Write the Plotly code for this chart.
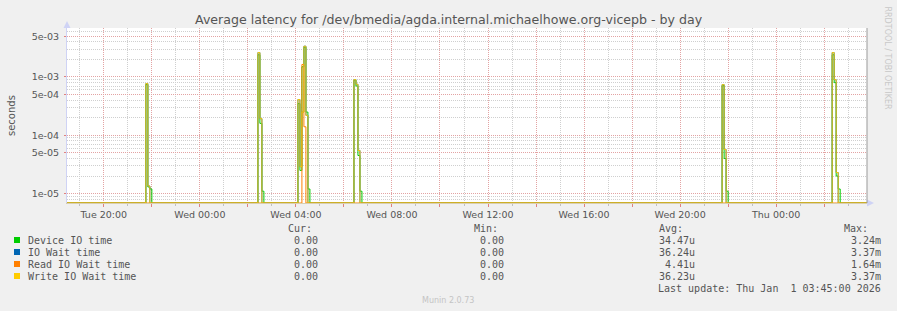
import plotly.graph_objects as go
from datetime import datetime, timedelta

# ---------------- data ----------------
TITLE = "Average latency for /dev/bmedia/agda.internal.michaelhowe.org-vicepb - by day"
Y_TITLE = "seconds"
X_START = "2025-12-30 18:28"
X_END = "2026-01-01 03:47"
STEP_MIN = 5

SERIES = ["Device IO time", "IO Wait time", "Read IO Wait time", "Write IO Wait time"]
COLORS = ["#00CC00", "#0066B3", "#FF8000", "#FFCC00"]

# start time of each burst of non-zero 5-minute samples
SPIKE_STARTS = ["2025-12-30 21:45", "2025-12-31 02:25", "2025-12-31 04:05",
                "2025-12-31 06:25", "2025-12-31 21:45", "2026-01-01 02:20"]

DEVICE = [[7.4e-4, 1.3e-5, 1.2e-5],
          [2.4e-3, 1.6e-4, 1.1e-5],
          [3.5e-4, 2.5e-5, 1.5e-3, 3.24e-3, 2.5e-4, 1.2e-5],
          [8.8e-4, 7.0e-4, 4.5e-5, 1.1e-5],
          [7.1e-4, 4.0e-5, 1.1e-5],
          [2.4e-3, 8.0e-4, 2.0e-5, 1.2e-5]]
IOWAIT = [[7.7e-4, 1.35e-5],
          [2.62e-3, 1.93e-4],
          [4.1e-4, 2.9e-5, 2.5e-4, 3.37e-3, 2.2e-4],
          [9.0e-4, 7.5e-4, 5.5e-5],
          [7.4e-4, 5.7e-5],
          [2.62e-3, 9.0e-4, 2.3e-5]]
READ = [[0.0], [0.0], [0.0, 0.0, 1.64e-3, 1.4e-4], [0.0], [0.0], [0.0]]
WRITE = [[7.7e-4, 1.35e-5],
         [2.62e-3, 1.93e-4],
         [4.1e-4, 2.9e-5, 2.5e-4, 3.37e-3, 2.2e-4],
         [9.0e-4, 7.5e-4, 5.5e-5],
         [7.4e-4, 5.7e-5],
         [2.62e-3, 9.0e-4, 2.3e-5]]

CUR = ["0.00", "0.00", "0.00", "0.00"]
MIN = ["0.00", "0.00", "0.00", "0.00"]
AVG = ["34.47u", "36.24u", "4.41u", "36.23u"]
MAX = ["3.24m", "3.37m", "1.64m", "3.37m"]
LAST_UPDATE = "Last update: Thu Jan\u00a0\u00a01 03:45:00 2026"
VERSION = "Munin 2.0.73"
WATERMARK = "RRDTOOL / TOBI OETIKER"

Y_RANGE_LOG = [-5.161, -2.160]
Y_TICKS = [5e-3, 1e-3, 5e-4, 1e-4, 5e-5, 1e-5]
Y_TICK_LABELS = ["5e-03", "1e-03", "5e-04", "1e-04", "5e-05", "1e-05"]
Y_MINOR_MULT = [2, 3, 4, 6, 7, 8, 9]
Y_MINOR_DECADES = [1e-6, 1e-5, 1e-4, 1e-3]

X_TICKS = ["2025-12-30 20:00", "2025-12-30 22:00", "2025-12-31 00:00", "2025-12-31 02:00",
           "2025-12-31 04:00", "2025-12-31 06:00", "2025-12-31 08:00", "2025-12-31 10:00",
           "2025-12-31 12:00", "2025-12-31 14:00", "2025-12-31 16:00", "2025-12-31 18:00",
           "2025-12-31 20:00", "2025-12-31 22:00", "2026-01-01 00:00", "2026-01-01 02:00"]
X_TICK_LABELS = ["Tue 20:00", "", "Wed 00:00", "", "Wed 04:00", "", "Wed 08:00", "",
                 "Wed 12:00", "", "Wed 16:00", "", "Wed 20:00", "", "Thu 00:00", ""]
X_MINOR = ["2025-12-30 19:00", "2025-12-30 21:00", "2025-12-30 23:00", "2025-12-31 01:00",
           "2025-12-31 03:00", "2025-12-31 05:00", "2025-12-31 07:00", "2025-12-31 09:00",
           "2025-12-31 11:00", "2025-12-31 13:00", "2025-12-31 15:00", "2025-12-31 17:00",
           "2025-12-31 19:00", "2025-12-31 21:00", "2025-12-31 23:00", "2026-01-01 01:00",
           "2026-01-01 03:00"]

# ---------------- build series ----------------
FMT = "%Y-%m-%d %H:%M"
t0 = datetime.strptime(X_START, FMT)
t1 = datetime.strptime(X_END, FMT)
first = t0.replace(minute=(t0.minute // STEP_MIN) * STEP_MIN)
times = []
t = first
while t <= t1 + timedelta(minutes=STEP_MIN):
    times.append(t)
    t += timedelta(minutes=STEP_MIN)
index = {tt: i for i, tt in enumerate(times)}

floor = 10 ** Y_RANGE_LOG[0]


def build(bursts):
    vals = [0.0] * len(times)
    for start, seq in zip(SPIKE_STARTS, bursts):
        s = datetime.strptime(start, FMT)
        for k, v in enumerate(seq):
            i = index.get(s + timedelta(minutes=STEP_MIN * k))
            if i is not None:
                vals[i] = v
    # zero is drawn at the bottom of the log axis, as rrdtool does
    return [v if v > 0 else floor for v in vals]


series_vals = [build(DEVICE), build(IOWAIT), build(READ), build(WRITE)]

fig = go.Figure()
for name, col, vals in zip(SERIES, COLORS, series_vals):
    fig.add_trace(go.Scatter(x=times, y=vals, mode="lines", name=name,
                             line=dict(color=col, width=1, shape="hv"),
                             showlegend=False, hoverinfo="skip"))

# ---------------- layout ----------------
W, H = 897, 311
L, R, T, B = 67, 30, 28, 108
PW, PH = W - L - R, H - T - B


def px(xp):
    return (xp - L) / PW


def py(yp):
    return (T + PH - yp) / PH


TXT = "#555555"
PINK = "#e3a3a3"
GREY = "#cfcfcf"

y_minor = [m * d for d in Y_MINOR_DECADES for m in Y_MINOR_MULT]

fig.update_layout(
    width=W, height=H,
    margin=dict(l=L, r=R, t=T, b=B, pad=0),
    paper_bgcolor="#F0F0F0", plot_bgcolor="#FFFFFF",
    font=dict(family="DejaVu Sans", color=TXT, size=10),
    showlegend=False,
    xaxis=dict(
        type="date", range=[X_START, X_END],
        tickmode="array", tickvals=X_TICKS, ticktext=X_TICK_LABELS,
        ticks="outside", ticklen=3, tickcolor="#e08080", tickwidth=1,
        tickfont=dict(size=9.5, color=TXT, family="DejaVu Sans"),
        showgrid=True, gridcolor=PINK, griddash="1px,1px", gridwidth=1,
        minor=dict(tickvals=X_MINOR, showgrid=True, gridcolor=GREY, griddash="1px,1px",
                   ticks="outside", ticklen=2, tickcolor="#c0c0c0"),
        showline=True, linecolor="#d9cfb0", linewidth=1,
        zeroline=False, fixedrange=True,
    ),
    yaxis=dict(
        type="log", range=Y_RANGE_LOG,
        tickmode="array", tickvals=Y_TICKS, ticktext=Y_TICK_LABELS,
        ticks="outside", ticklen=2, tickcolor="#e08080", ticklabelstandoff=3,
        tickfont=dict(size=9.5, color=TXT, family="DejaVu Sans"),
        showgrid=True, gridcolor=PINK, griddash="1px,1px", gridwidth=1,
        minor=dict(tickvals=y_minor, showgrid=True, gridcolor=GREY, griddash="1px,1px"),
        showline=True, linecolor="#cfd3f5", linewidth=1,
        zeroline=False, fixedrange=True,
        title=None,
    ),
)

ann = []
ann.append(dict(text=TITLE, x=px(449), y=py(19.5), xref="paper", yref="paper",
                xanchor="center", yanchor="middle", showarrow=False,
                font=dict(size=12.6, color=TXT, family="DejaVu Sans")))
ann.append(dict(text=Y_TITLE, x=px(11), y=py(115), xref="paper", yref="paper",
                xanchor="center", yanchor="middle", showarrow=False, textangle=-90,
                font=dict(size=10, color=TXT, family="DejaVu Sans")))
ann.append(dict(text=WATERMARK, x=px(887), y=py(5), xref="paper", yref="paper",
                xanchor="center", yanchor="top", showarrow=False, textangle=90,
                font=dict(size=8, color="#c8c8c8", family="DejaVu Sans")))

MONO = "DejaVu Sans Mono"
for hdr, xr in zip(["Cur:", "Min:", "Avg:", "Max:"], [314, 500, 685, 870]):
    ann.append(dict(text=hdr, x=px(xr), y=py(228), xref="paper", yref="paper",
                    xanchor="right", yanchor="middle", showarrow=False,
                    font=dict(size=10, color=TXT, family=MONO)))
row_y = [240, 252, 264, 276]
shapes = []
for i, name in enumerate(SERIES):
    yy = row_y[i]
    shapes.append(dict(type="rect", xref="paper", yref="paper",
                       x0=px(14), x1=px(20), y0=py(yy + 3), y1=py(yy - 3),
                       fillcolor=COLORS[i], line=dict(width=0)))
    ann.append(dict(text=name, x=px(26), y=py(yy), xref="paper", yref="paper",
                    xanchor="left", yanchor="middle", showarrow=False,
                    font=dict(size=10, color=TXT, family=MONO)))
    for val, xr in zip([CUR[i], MIN[i], AVG[i], MAX[i]], [320, 506, 697, 883]):
        ann.append(dict(text=val, x=px(xr), y=py(yy), xref="paper", yref="paper",
                        xanchor="right", yanchor="middle", showarrow=False,
                        font=dict(size=10, color=TXT, family=MONO)))
ann.append(dict(text=LAST_UPDATE, x=px(883), y=py(288), xref="paper", yref="paper",
                xanchor="right", yanchor="middle", showarrow=False,
                font=dict(size=10, color=TXT, family=MONO)))
ann.append(dict(text=VERSION, x=px(448), y=py(300), xref="paper", yref="paper",
                xanchor="center", yanchor="middle", showarrow=False,
                font=dict(size=8, color="#c4c4c4", family="DejaVu Sans")))

# axis arrows and right frame line
shapes.append(dict(type="path", xref="paper", yref="paper",
                   path=f"M {px(63.5)} {py(28)} L {px(70.5)} {py(28)} L {px(67)} {py(21)} Z",
                   fillcolor="#cfd3f5", line=dict(width=0)))
shapes.append(dict(type="path", xref="paper", yref="paper",
                   path=f"M {px(867)} {py(199.5)} L {px(867)} {py(206.5)} L {px(874)} {py(203)} Z",
                   fillcolor="#cfd3f5", line=dict(width=0)))
shapes.append(dict(type="line", xref="paper", yref="paper",
                   x0=1, x1=1, y0=0, y1=1, line=dict(color="#999999", width=1)))

fig.update_layout(annotations=ann, shapes=shapes)
fig.write_html("out.html")
